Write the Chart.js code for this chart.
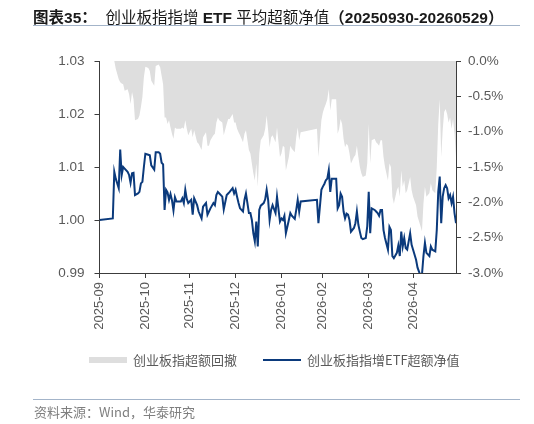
<!DOCTYPE html>
<html>
<head>
<meta charset="utf-8">
<script src="https://cdn.jsdelivr.net/npm/chart.js@4"></script>
<style>
  html, body { margin: 0; padding: 0; background: #ffffff; }
  #wrap { position: relative; width: 534px; height: 424px; overflow: hidden; }
  #c { position: absolute; left: 0; top: 0; }
  .title { position: absolute; left: 33px; top: 6px; font-size: 15.5px; line-height: 20px; color: #1a1a1a; white-space: nowrap;
           font-family: "Liberation Sans", Arial, "Noto Sans CJK SC", sans-serif; font-weight: bold; }
  .title .cjk { font-family: "Noto Sans CJK SC", sans-serif; font-weight: 400; }
  .title .cjkb { font-family: "Noto Sans CJK SC", sans-serif; font-weight: 700; }
  .rule { position: absolute; left: 33px; width: 487px; height: 1px; background: #a3b4c9; }
  .legend { position: absolute; top: 351px; left: 0; width: 534px; height: 18px; font-size: 13px; color: #595959;
            font-family: "Noto Sans CJK SC", sans-serif; }
  .legend .item { position: absolute; top: 0; line-height: 18px; white-space: nowrap; }
  .legend .swatch { position: absolute; }
  .source { position: absolute; left: 34px; top: 403px; font-size: 13px; line-height: 17px; color: #7f7f7f;
            font-family: "Noto Sans CJK SC", sans-serif; white-space: nowrap; }
</style>
</head>
<body>
<div id="wrap">
  <canvas id="c" width="534" height="424"></canvas>
  <div class="title"><span class="cjkb">图表</span>35<span class="cjkb">：</span>&nbsp;&nbsp;<span class="cjk">创业板指指增</span> ETF <span class="cjk">平均超额净值</span><span class="cjkb">（</span>20250930-20260529<span class="cjkb">）</span></div>
  <div class="rule" style="top:25px;"></div>
  <div class="legend">
    <div class="swatch" style="left:89px; top:6px; width:38px; height:6px; background:#dedede;"></div>
    <div class="item" style="left:133px;">创业板指超额回撤</div>
    <div class="swatch" style="left:263px; top:8px; width:38px; height:2px; background:#0b3a7c;"></div>
    <div class="item" style="left:307px;">创业板指指增ETF超额净值</div>
  </div>
  <div class="rule" style="top:399px;"></div>
  <div class="source">资料来源：Wind，华泰研究</div>
</div>
<script>
// ---- data ----
const dates = [
  '2025-09-30','2025-10-09','2025-10-10','2025-10-11','2025-10-13','2025-10-14','2025-10-15','2025-10-16','2025-10-17','2025-10-19',
  '2025-10-20','2025-10-21','2025-10-22','2025-10-23','2025-10-24','2025-10-26','2025-10-27','2025-10-28','2025-10-29','2025-10-30',
  '2025-10-31','2025-11-02','2025-11-03','2025-11-04','2025-11-06','2025-11-07','2025-11-09','2025-11-10','2025-11-11','2025-11-12',
  '2025-11-13','2025-11-14','2025-11-15','2025-11-16','2025-11-17','2025-11-18','2025-11-19','2025-11-20','2025-11-21','2025-11-23',
  '2025-11-24','2025-11-25','2025-11-26','2025-11-27','2025-11-28','2025-11-29','2025-12-01','2025-12-02','2025-12-03','2025-12-05',
  '2025-12-06','2025-12-08','2025-12-09','2025-12-11','2025-12-12','2025-12-13','2025-12-14','2025-12-16','2025-12-17','2025-12-18',
  '2025-12-19','2025-12-20','2025-12-22','2025-12-23','2025-12-25','2025-12-26','2025-12-27','2025-12-29','2025-12-30','2025-12-31',
  '2026-01-01','2026-01-02','2026-01-03','2026-01-05','2026-01-06','2026-01-07','2026-01-08','2026-01-09','2026-01-10','2026-01-11',
  '2026-01-12','2026-01-13','2026-01-14','2026-01-15','2026-01-16','2026-01-17','2026-01-19','2026-01-20','2026-01-21','2026-01-22',
  '2026-01-23','2026-01-24','2026-01-25','2026-01-27','2026-01-28','2026-01-30','2026-01-31','2026-02-01','2026-02-02','2026-02-03',
  '2026-02-05','2026-02-06','2026-02-07','2026-02-09','2026-02-10','2026-02-11','2026-02-12','2026-02-13','2026-02-24','2026-02-25',
  '2026-02-27','2026-02-28','2026-03-01','2026-03-02','2026-03-03','2026-03-04','2026-03-05','2026-03-06','2026-03-07','2026-03-09',
  '2026-03-10','2026-03-11','2026-03-12','2026-03-13','2026-03-14','2026-03-15','2026-03-16','2026-03-17','2026-03-18','2026-03-19',
  '2026-03-21','2026-03-22','2026-03-23','2026-03-24','2026-03-25','2026-03-26','2026-03-27','2026-03-29','2026-03-30','2026-03-31',
  '2026-04-01','2026-04-02','2026-04-04','2026-04-05','2026-04-06','2026-04-07','2026-04-08','2026-04-09','2026-04-10','2026-04-11',
  '2026-04-13','2026-04-14','2026-04-15','2026-04-16','2026-04-17','2026-04-19','2026-04-20','2026-04-21','2026-04-22','2026-04-23',
  '2026-04-24','2026-04-25','2026-04-26','2026-04-28','2026-04-29','2026-04-30','2026-05-02','2026-05-03','2026-05-05','2026-05-06',
  '2026-05-07','2026-05-08','2026-05-09','2026-05-11','2026-05-12','2026-05-13','2026-05-15','2026-05-16','2026-05-17','2026-05-18',
  '2026-05-19','2026-05-20','2026-05-21','2026-05-22','2026-05-23','2026-05-24','2026-05-25','2026-05-26','2026-05-27','2026-05-28',
  '2026-05-29'
];

// 创业板指指增ETF超额净值 (left axis)
const excessNav = [
  1.0000,1.0003,1.0091,1.0078,1.0060,1.0133,1.0085,1.0100,1.0097,1.0091,
  1.0085,1.0070,1.0088,1.0089,1.0047,1.0050,1.0053,1.0069,1.0072,1.0100,
  1.0125,1.0123,1.0122,1.0103,1.0095,1.0128,1.0128,1.0125,1.0108,1.0105,
  1.0019,1.0057,1.0052,1.0038,1.0049,1.0037,1.0018,1.0043,1.0035,1.0035,
  1.0035,1.0041,1.0032,1.0057,1.0040,1.0032,1.0038,1.0010,1.0041,1.0028,
  1.0016,1.0003,1.0025,1.0032,1.0010,1.0016,1.0022,1.0032,1.0028,1.0047,
  1.0053,1.0050,1.0044,1.0020,1.0047,1.0050,1.0053,1.0060,1.0050,1.0057,
  1.0044,1.0032,1.0022,1.0016,1.0038,1.0050,1.0032,1.0013,1.0013,1.0000,
  0.9975,0.9960,0.9997,0.9950,1.0019,1.0027,1.0032,1.0039,1.0057,1.0038,
  1.0000,1.0019,1.0028,1.0013,1.0044,0.9997,1.0003,1.0000,1.0008,0.9975,
  1.0000,1.0013,1.0008,1.0002,1.0019,1.0038,1.0016,1.0035,1.0038,0.9994,
  1.0057,1.0063,1.0068,1.0075,1.0078,1.0094,1.0053,1.0078,1.0078,1.0078,
  1.0022,1.0028,1.0050,1.0044,1.0016,1.0003,1.0012,1.0010,1.0000,0.9978,
  0.9985,0.9994,1.0016,0.9991,0.9978,0.9966,0.9964,0.9966,0.9988,1.0053,
  0.9975,1.0022,1.0019,1.0016,1.0013,1.0008,1.0019,1.0019,0.9981,0.9966,
  0.9944,0.9987,0.9981,0.9932,0.9928,0.9938,0.9952,0.9932,0.9978,0.9950,
  0.9966,0.9947,0.9944,0.9975,0.9953,0.9944,0.9925,0.9910,0.9895,0.9897,
  0.9932,0.9957,0.9938,0.9932,0.9950,0.9944,0.9941,0.9981,1.0053,1.0082,
  0.9994,1.0044,1.0060,1.0066,1.0060,1.0041,1.0047,1.0032,1.0044,1.0013,
  0.9994
];

// 创业板指超额回撤, % (right axis)
const drawdownPct = [
  0.00,0.00,0.00,-0.11,-0.26,-0.30,-0.32,-0.33,-0.42,-0.40,
  -0.47,-0.61,-0.44,-0.54,-0.84,-0.82,-0.77,-0.65,-0.51,-0.23,
  -0.08,-0.10,-0.14,-0.28,-0.35,-0.07,-0.05,-0.09,-0.21,-0.33,
  -0.80,-0.80,-0.89,-0.84,-0.94,-1.03,-1.10,-0.94,-0.96,-0.96,
  -0.96,-0.94,-0.96,-0.84,-0.96,-1.05,-0.96,-1.08,-0.98,-1.15,
  -1.17,-1.26,-1.08,-1.01,-1.20,-1.20,-1.12,-1.05,-1.03,-0.87,
  -0.80,-0.84,-0.87,-1.05,-0.89,-0.82,-0.82,-0.75,-0.87,-0.87,
  -0.96,-1.01,-1.05,-1.15,-1.03,-0.98,-1.12,-1.26,-1.31,-1.45,
  -1.59,-1.69,-1.45,-1.78,-1.31,-1.12,-1.05,-0.96,-0.77,-0.98,
  -1.22,-1.08,-1.05,-1.15,-0.94,-1.36,-1.31,-1.20,-1.22,-1.55,
  -1.36,-1.20,-1.24,-1.29,-1.08,-0.94,-1.12,-1.01,-0.96,-1.36,
  -0.84,-0.73,-0.66,-0.61,-0.54,-0.40,-0.70,-0.54,-0.54,-0.54,
  -1.03,-0.96,-0.82,-0.89,-1.10,-1.22,-1.17,-1.20,-1.31,-1.45,
  -1.36,-1.33,-1.20,-1.36,-1.50,-1.59,-1.64,-1.62,-1.45,-0.89,
  -1.45,-1.12,-1.10,-1.15,-1.17,-1.20,-1.12,-1.12,-1.36,-1.50,
  -1.69,-1.45,-1.50,-1.92,-2.02,-1.83,-1.78,-1.92,-1.55,-1.78,
  -1.69,-1.87,-1.83,-1.64,-1.83,-1.92,-2.04,-2.20,-2.34,-2.41,
  -2.02,-1.78,-1.92,-1.87,-1.73,-1.83,-1.87,-1.50,-0.89,-0.54,
  -1.36,-0.98,-0.72,-0.68,-0.75,-0.87,-0.80,-0.96,-0.82,-1.03,
  -1.36
];

const startDate = '2025-09-30';
const endDate = '2026-05-29';
const monthTickDates = ['2025-09-30','2025-10-31','2025-11-30','2025-12-31','2026-01-31','2026-02-28','2026-03-31','2026-04-30'];
const monthTickLabels = ['2025-09','2025-10','2025-11','2025-12','2026-01','2026-02','2026-03','2026-04'];
const seriesNames = ['创业板指超额回撤', '创业板指指增ETF超额净值'];

// ---- helpers ----
function dayNum(s) {
  const p = s.split('-').map(Number);
  return Date.UTC(p[0], p[1] - 1, p[2]) / 86400000;
}
const d0 = dayNum(startDate);
const toX = s => dayNum(s) - d0;
const tickPos = monthTickDates.map(toX);
const tickLabelByPos = {};
tickPos.forEach((p, i) => { tickLabelByPos[p] = monthTickLabels[i]; });

const navPoints = dates.map((d, i) => ({ x: toX(d), y: excessNav[i] }));
const ddPoints = dates.map((d, i) => ({ x: toX(d), y: drawdownPct[i] }));

const axisColor = '#3c3c3c';
const tickColor = '#595959';
const fontFam = '"Liberation Sans", Arial, sans-serif';

new Chart(document.getElementById('c'), {
  type: 'line',
  data: {
    datasets: [
      {
        label: seriesNames[0],
        data: ddPoints,
        yAxisID: 'yR',
        borderWidth: 0,
        borderColor: 'rgba(0,0,0,0)',
        backgroundColor: '#dedede',
        fill: { value: 0 },
        pointRadius: 0,
        tension: 0,
        order: 2
      },
      {
        label: seriesNames[1],
        data: navPoints,
        yAxisID: 'yL',
        borderWidth: 2,
        borderColor: '#0b3a7c',
        backgroundColor: '#0b3a7c',
        fill: false,
        pointRadius: 0,
        tension: 0,
        clip: 0,
        order: 1
      }
    ]
  },
  options: {
    responsive: false,
    animation: false,
    devicePixelRatio: 1,
    layout: { padding: { top: 61, left: 0, right: 0, bottom: 0 } },
    plugins: {
      legend: { display: false },
      tooltip: { enabled: false },
      title: { display: false }
    },
    scales: {
      x: {
        type: 'linear',
        min: 0,
        max: toX(endDate),
        afterFit: s => { s.height = 151; },
        afterBuildTicks: s => { s.ticks = tickPos.map(v => ({ value: v })); },
        border: { display: true, color: axisColor, width: 1 },
        grid: { display: true, drawOnChartArea: false, drawTicks: true, tickLength: 5, color: axisColor },
        ticks: {
          autoSkip: false,
          minRotation: 90,
          maxRotation: 90,
          padding: 4,
          color: tickColor,
          font: { family: fontFam, size: 13 },
          callback: v => tickLabelByPos[v] || ''
        }
      },
      yL: {
        position: 'left',
        min: 0.99,
        max: 1.03,
        afterFit: s => { s.width = 99.5; },
        border: { display: true, color: axisColor, width: 1 },
        grid: { display: true, drawOnChartArea: false, drawTicks: true, tickLength: 5, color: axisColor },
        ticks: {
          stepSize: 0.01,
          padding: 10,
          color: tickColor,
          font: { family: fontFam, size: 13.5 },
          callback: v => Number(v).toFixed(2)
        }
      },
      yR: {
        position: 'right',
        min: -3,
        max: 0,
        afterFit: s => { s.width = 78; },
        border: { display: true, color: axisColor, width: 1 },
        grid: { display: true, drawOnChartArea: false, drawTicks: true, tickLength: 5, color: axisColor },
        ticks: {
          stepSize: 0.5,
          padding: 7,
          color: tickColor,
          font: { family: fontFam, size: 13.5 },
          callback: v => Number(v).toFixed(1) + '%'
        }
      }
    }
  }
});
</script>
</body>
</html>
